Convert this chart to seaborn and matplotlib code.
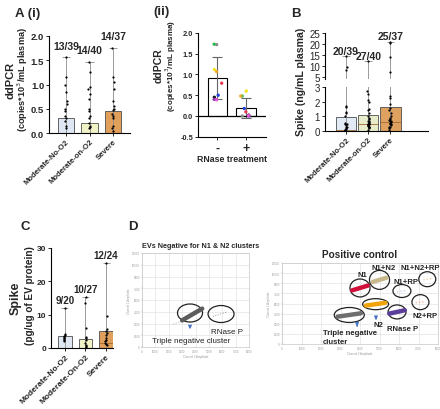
import numpy as np
import pandas as pd
import matplotlib.pyplot as plt
from matplotlib.patches import Ellipse
import seaborn as sns

# ---------------- data ----------------
# A (i) ddPCR in plasma
groups_a = ['Moderate-No-O2', 'Moderate-on-O2', 'Severe']
mean_a = [0.31, 0.21, 0.46]
max_a = [1.56, 1.47, 1.75]
frac_a = ['13/39', '14/40', '14/37']
pts_a = [
    [1.56, 1.15, 1.0, 0.85, 0.65, 0.6, 0.5, 0.45, 0.35, 0.3, 0.25, 0.15, 0.1],
    [1.47, 1.25, 0.95, 0.9, 0.8, 0.7, 0.5, 0.45, 0.35, 0.3, 0.2, 0.15, 0.12, 0.1],
    [1.75, 1.15, 1.05, 0.9, 0.65, 0.55, 0.5, 0.48, 0.4, 0.35, 0.3, 0.15, 0.1, 0.05],
]

# A (ii) RNase treatment, paired donors
rnase_groups = ['-', '+']
rnase_mean = [0.91, 0.19]
rnase_sd = [0.51, 0.24]
donors = ['d1', 'd2', 'd3', 'd4', 'd5', 'd6', 'd7', 'd8', 'd9']
donor_colors = ['#8c8c8c', '#2db84a', '#f2e318', '#f5a623', '#e8384f',
                '#2341d9', '#111111', '#8e3fbf', '#e84fd2']
rnase_minus = [1.72, 1.73, 1.12, 1.07, 0.79, 0.50, 0.45, 0.40, 0.39]
rnase_plus = [0.00, 0.48, 0.60, 0.48, 0.10, 0.18, 0.02, 0.00, 0.01]

# B spike in plasma
groups_b = ['Moderate-No-O2', 'Moderate-on-O2', 'Severe']
mean_b = [0.95, 1.08, 1.62]
med_b = [0.1, 0.45, 0.62]
max_b = [14.5, 12.0, 21.0]
frac_b = ['20/39', '27/40', '25/37']
pts_b = [
    [14.5, 9.5, 8.0, 1.7, 1.65, 1.3, 1.2, 1.0, 0.55, 0.5, 0.45, 0.4, 0.3, 0.25,
     0.2, 0.15, 0.1, 0.08, 0.05, 0.03],
    [12.0, 2.7, 2.5, 2.1, 1.95, 1.5, 1.4, 1.2, 1.0, 0.9, 0.8, 0.7, 0.65, 0.6,
     0.55, 0.5, 0.5, 0.45, 0.45, 0.4, 0.4, 0.35, 0.3, 0.3, 0.25, 0.2, 0.1],
    [21.0, 20.5, 14.0, 7.0, 2.4, 2.25, 1.85, 1.6, 1.4, 1.2, 1.0, 0.9, 0.8, 0.75,
     0.7, 0.65, 0.6, 0.55, 0.5, 0.45, 0.4, 0.3, 0.25, 0.2, 0.1],
]

# C spike on EVs
groups_c = ['Moderate-No-O2', 'Moderate-On-O2', 'Severe']
mean_c = [3.5, 2.7, 5.1]
med_c = [np.nan, np.nan, 1.4]
max_c = [12.0, 15.2, 25.5]
frac_c = ['9/20', '10/27', '12/24']
pts_c = [
    [12.0, 4.2, 3.9, 3.6, 3.3, 3.0, 2.6, 2.3, 2.0],
    [15.2, 13.5, 6.0, 3.4, 3.0, 2.4, 1.5, 1.0, 0.6, 0.3],
    [25.5, 9.7, 5.6, 5.2, 4.6, 4.0, 3.0, 2.5, 2.0, 1.5, 1.2, 0.9],
]

# D ddPCR 2D plots (channel 2 amp, channel 1 amp)
neg_ell_x = [3590, 5910]
neg_ell_y = [4340, 4210]
neg_ell_w = [1870, 1945]
neg_ell_h = [2300, 2170]

pc_names = ['Triple negative', 'N2', 'N1', 'N1+N2', 'RNase P', 'N1+RP', 'N1+N2+RP', 'N2+RP']
pc_x = [3450, 4800, 4000, 5000, 5900, 6150, 7450, 7100]
pc_y = [4300, 5900, 8300, 9500, 4750, 7850, 9600, 6200]
pc_dx = [600, 500, 400, 350, 400, 250, 200, 250]
pc_dy = [250, 200, 350, 300, 250, 100, 100, 80]
pc_colors = ['#6e6e6e', '#f0a30a', '#d0103a', '#c8b98d', '#5a3e9a', '#b9cde8', '#f0c890', '#f0a890']
pc_dense = [True, True, True, True, True, False, False, False]
pc_ell_w = [1540, 1330, 1030, 1030, 920, 920, 870, 870]
pc_ell_h = [2220, 1630, 2660, 2810, 2070, 1920, 2220, 2220]

sns.set_style('ticks')
plt.rcParams['font.family'] = ['Liberation Sans', 'DejaVu Sans']

W, H = 440, 410
fig = plt.figure(figsize=(W / 100, H / 100), dpi=100)
fig.patch.set_facecolor('white')


def add_px(x0, y0, x1, y1):
    return fig.add_axes([x0 / W, 1 - y1 / H, (x1 - x0) / W, (y1 - y0) / H])


def ftext(x, y, s, **kw):
    fig.text(x / W, 1 - y / H, s, **kw)


def style_axis(ax, fs, bold=True):
    for s in ['top', 'right']:
        ax.spines[s].set_visible(False)
    for s in ['left', 'bottom']:
        ax.spines[s].set_linewidth(0.8)
        ax.spines[s].set_color('black')
    ax.tick_params(length=2.5, width=0.7, labelsize=fs, pad=1)
    ax.set_xlabel('')
    ax.set_ylabel('')
    if bold:
        for lab in ax.get_yticklabels():
            lab.set_fontweight('bold')


def bar_panel(ax, names, means, maxes, pts, colors, width, medians=None):
    sns.barplot(x=names, y=means, hue=names, palette=colors, legend=False,
                width=width, edgecolor='#4d4d4d', linewidth=0.6, ax=ax, zorder=1)
    xs = np.arange(len(names))
    if medians is not None:
        ax.hlines(medians, xs - width / 2, xs + width / 2, color='#a06a30', lw=0.6, zorder=2)
    ax.vlines(xs, 0, maxes, color='#8c8c8c', lw=0.6, zorder=2)
    ax.hlines(maxes, xs - 0.17, xs + 0.17, color='#8c8c8c', lw=0.6, zorder=2)
    long = pd.DataFrame({'group': np.repeat(names, [len(p) for p in pts]),
                         'value': np.concatenate(pts)})
    sns.stripplot(data=long, x='group', y='value', order=names, color='black',
                  size=1.6, jitter=0.05, ax=ax, zorder=3)


def rot_labels(ax, names, fs):
    ax.set_xticks(range(len(names)))
    ax.set_xticklabels(names, rotation=45, ha='right', rotation_mode='anchor',
                       fontsize=fs, fontweight='bold')


np.random.seed(3)

# ---------- A (i) ----------
ax = add_px(49, 37, 130, 134)
bar_panel(ax, groups_a, mean_a, max_a, pts_a, ['#dae7f7', '#f8f9bf', '#f6a044'], 0.68)
ax.set_xlim(-0.72, 2.72)
ax.set_ylim(0, 2.0)
ax.set_yticks([0, 0.5, 1.0, 1.5, 2.0])
ax.set_yticklabels(['0.0', '0.5', '1.0', '1.5', '2.0'])
style_axis(ax, 6.8)
rot_labels(ax, groups_a, 5.6)
for i, t in enumerate(frac_a):
    ax.text(i, max_a[i] + 0.24, t, ha='center', va='center', fontsize=7.5, fontweight='bold')
ftext(10, 80, 'ddPCR', rotation=90, ha='center', va='center', fontsize=8, fontweight='bold')
ftext(23, 80, '(copies*10$^3$/mL plasma)', rotation=90, ha='center', va='center',
      fontsize=6.6, fontweight='bold')
ftext(15, 14, 'A (i)', ha='left', va='center', fontsize=9.5, fontweight='bold')

# ---------- A (ii) ----------
ax = add_px(198, 34, 266, 137.7)
sns.barplot(x=rnase_groups, y=rnase_mean, color='white', edgecolor='black',
            linewidth=0.8, width=0.66, ax=ax, zorder=1)
ax.errorbar(range(2), rnase_mean, yerr=rnase_sd, fmt='none', ecolor='#666666',
            elinewidth=0.8, capsize=3.5, capthick=0.8, zorder=2)
rn = pd.DataFrame({'treat': np.repeat(rnase_groups, len(donors)),
                   'value': rnase_minus + rnase_plus,
                   'donor': donors * 2})
sns.stripplot(data=rn, x='treat', y='value', hue='donor', order=rnase_groups,
              palette=donor_colors, size=2.4, jitter=0.22, legend=False, ax=ax, zorder=3)
ax.axhline(0, color='black', lw=0.9, zorder=2)
ax.set_xlim(-0.66, 1.69)
ax.set_ylim(-0.5, 2.0)
ax.set_yticks([-0.5, 0, 0.5, 1.0, 1.5, 2.0])
ax.set_yticklabels(['-0.5', '0.0', '0.5', '1.0', '1.5', '2.0'])
style_axis(ax, 5.3)
ax.set_xticks([0, 1])
ax.set_xticklabels(rnase_groups, fontsize=9, fontweight='bold')
ax.set_xlabel('RNase treatment', fontsize=6.3, fontweight='bold', labelpad=0)
ftext(159, 66, 'ddPCR', rotation=90, ha='center', va='center', fontsize=7.5, fontweight='bold')
ftext(171, 66, '(copies*10$^3$/mL plasma)', rotation=90, ha='center', va='center',
      fontsize=5.8, fontweight='bold')
ftext(153, 12, '(ii)', ha='left', va='center', fontsize=9.5, fontweight='bold')

# ---------- B (broken axis) ----------
cols_b = ['#dfeaf8', '#eef2c4', '#f3a24b']
axl = add_px(325, 88, 428, 132)
bar_panel(axl, groups_b, mean_b, max_b, pts_b, cols_b, 0.92, medians=med_b)
axl.set_xlim(-0.95, 3.7)
axl.set_ylim(0, 3)
axl.set_yticks([0, 1, 2, 3])
style_axis(axl, 7, bold=False)
rot_labels(axl, groups_b, 5.6)

axu = add_px(325, 34, 428, 80)
np.random.seed(3)
bar_panel(axu, groups_b, mean_b, max_b, pts_b, cols_b, 0.92)
axu.set_xlim(-0.95, 3.7)
axu.set_ylim(4, 25)
axu.set_yticks([5, 10, 15, 20, 25])
style_axis(axu, 7, bold=False)
axu.spines['bottom'].set_visible(False)
axu.set_xticks([])
for i, t in enumerate(frac_b):
    axu.text(i, max_b[i] + 2.5, t, ha='center', va='center', fontsize=7.5,
             fontweight='bold', clip_on=False)
ftext(301, 82, 'Spike (ng/mL plasma)', rotation=90, ha='center', va='center',
      fontsize=7.6, fontweight='bold')
ftext(291, 14, 'B', ha='left', va='center', fontsize=9.5, fontweight='bold')

# ---------- C ----------
ax = add_px(51, 249, 113, 349)
bar_panel(ax, groups_c, mean_c, max_c, pts_c, ['#dae7f7', '#f8f9bf', '#f6a044'], 0.68,
          medians=med_c)
ax.set_xlim(-0.68, 2.34)
ax.set_ylim(0, 30)
ax.set_yticks([0, 10, 20, 30])
style_axis(ax, 6)
rot_labels(ax, groups_c, 6)
for i, t in enumerate(frac_c):
    ax.text(i, max_c[i] + 2.5, t, ha='center', va='center', fontsize=7,
            fontweight='bold', clip_on=False)
ftext(16, 298, 'Spike', rotation=90, ha='center', va='center', fontsize=9, fontweight='bold')
ftext(30, 296, '(pg/ug of EV protein)', rotation=90, ha='center', va='center',
      fontsize=7.2, fontweight='bold')
ftext(25, 227, 'C', ha='center', va='center', fontsize=9.5, fontweight='bold')

# ---------- D ----------
ftext(133, 227, 'D', ha='center', va='center', fontsize=9.5, fontweight='bold')


def ddpcr_axis(ax):
    ax.set_xlim(0, 8000)
    ax.set_ylim(0, 12000)
    ax.set_xticks(range(0, 8001, 1000))
    ax.set_yticks(range(0, 12001, 1500))
    ax.grid(True, color='#e3e3e3', lw=0.5)
    ax.set_axisbelow(True)
    for s in ax.spines.values():
        s.set_color('#c8c8c8')
        s.set_linewidth(0.5)
    ax.tick_params(labelsize=2, length=1, width=0.3, colors='#999999', pad=0.5)
    ax.set_xlabel('Channel 2 Amplitude', fontsize=2, color='#999999', labelpad=0.5)
    ax.set_ylabel('Channel 1 Amplitude', fontsize=2, color='#999999', labelpad=0.5)


# left: EV sample
axL = add_px(142, 254, 249, 348)
ddpcr_axis(axL)
axL.plot([2300, 3000], [2900, 3300], color='#bbbbbb', lw=0.8, ls=':')
axL.plot([3000, 4500], [3400, 4900], color='#5c5c5c', lw=3.2, solid_capstyle='round')
axL.plot([5300, 6400], [3900, 4500], color='#9a9a9a', lw=0.7, ls=':')
for i in range(len(neg_ell_x)):
    axL.add_patch(Ellipse((neg_ell_x[i], neg_ell_y[i]), neg_ell_w[i], neg_ell_h[i],
                          fill=False, ec='#222222', lw=0.9))
axL.annotate('', xy=(3590, 1915), xytext=(3590, 3060),
             arrowprops=dict(arrowstyle='-|>', color='#4472c4', lw=0.8, mutation_scale=5))
axL.text(5160, 2040, 'RNase P', fontsize=5.8, ha='left', va='center', color='#222222')
axL.text(750, 770, 'Triple negative cluster', fontsize=5.8, ha='left', va='center',
         color='#222222')
ftext(201, 247, 'EVs Negative for N1 & N2 clusters', ha='center', va='center',
      fontsize=5.2, fontweight='bold')

# right: positive control
axR = add_px(282, 264, 438, 345)
ddpcr_axis(axR)
for i in range(len(pc_names)):
    xx = [pc_x[i] - pc_dx[i], pc_x[i] + pc_dx[i]]
    yy = [pc_y[i] - pc_dy[i], pc_y[i] + pc_dy[i]]
    if pc_dense[i]:
        axR.plot(xx, yy, color=pc_colors[i], lw=3.2, solid_capstyle='round')
    else:
        axR.plot(xx, yy, color=pc_colors[i], lw=0.9, ls=':')
    axR.add_patch(Ellipse((pc_x[i], pc_y[i]), pc_ell_w[i], pc_ell_h[i],
                          fill=False, ec='#222222', lw=0.9, clip_on=False))

pc_label_x = [2100, 4920, 4100, 5230, 6200, 6360, 7080, 7340]
pc_label_y = [1040, 2960, 10360, 11400, 2370, 9320, 11400, 4290]
pc_label_txt = ['Triple negative\ncluster', 'N2', 'N1', 'N1+N2', 'RNase P', 'N1+RP',
                'N1+N2+RP', 'N2+RP']
pc_label_ha = ['left', 'center', 'center', 'center', 'center', 'center', 'center', 'center']
for i in range(len(pc_label_txt)):
    axR.text(pc_label_x[i], pc_label_y[i], pc_label_txt[i], fontsize=5.6, fontweight='bold',
             ha=pc_label_ha[i], va='center', linespacing=1.3, clip_on=False)
axR.annotate('', xy=(3850, 2200), xytext=(3850, 3100),
             arrowprops=dict(arrowstyle='-|>', color='#4472c4', lw=0.8, mutation_scale=5))
axR.annotate('', xy=(4820, 3550), xytext=(4820, 4290),
             arrowprops=dict(arrowstyle='-|>', color='#4472c4', lw=0.8, mutation_scale=5))
ftext(360, 255, 'Positive control', ha='center', va='center', fontsize=7.2, fontweight='bold')

fig.savefig('out.png', dpi=100, facecolor='white')
